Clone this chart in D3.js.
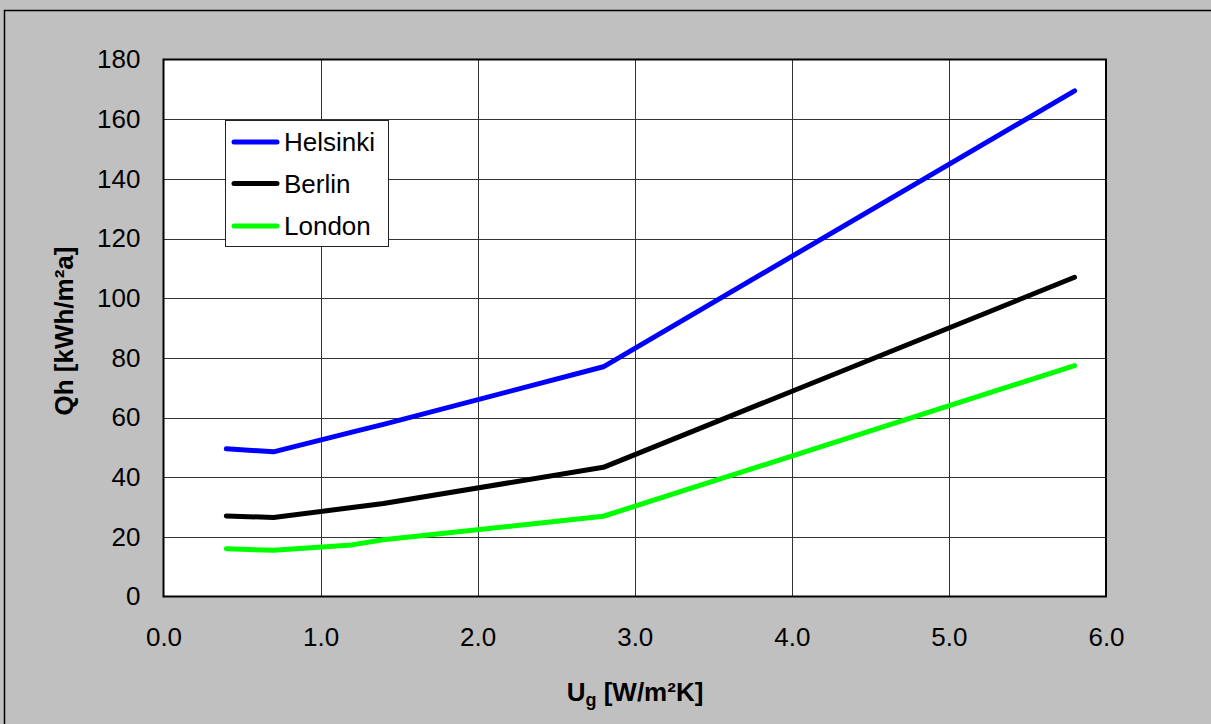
<!DOCTYPE html>
<html>
<head>
<meta charset="utf-8">
<script src="https://cdn.jsdelivr.net/npm/d3@7/dist/d3.min.js"></script>
<style>
html,body{margin:0;padding:0;background:#c0c0c0;overflow:hidden;}
svg{display:block;}
text{font-family:"Liberation Sans",Arial,sans-serif;fill:#000;}
</style>
</head>
<body>
<svg id="chart" width="1211" height="724"></svg>
<script>
const xValues = [0.4, 0.7, 1.2, 1.4, 2.8, 5.8];
const seriesNames = ["Helsinki", "Berlin", "London"];
const seriesColors = ["#0000ff", "#000000", "#00ff00"];
const helsinki = [49.5, 48.5, 55.1, 57.7, 77.0, 169.5];
const berlin = [27.0, 26.5, 29.8, 31.2, 43.3, 107.0];
const london = [16.0, 15.5, 17.3, 19.0, 26.9, 77.4];
const xTicks = [0, 1, 2, 3, 4, 5, 6];
const yTicks = [0, 20, 40, 60, 80, 100, 120, 140, 160, 180];

const series = [helsinki, berlin, london];
const svg = d3.select("#chart");
const W = 1211, H = 724;

// outer frame (right and bottom edges lie outside the picture)
svg.append("path").attr("d", `M${W + 5},10.5 H4.5 V${H + 5}`)
  .attr("fill", "none").attr("stroke", "#000").attr("stroke-width", 1.5);

const pLeft = 163.5, pRight = 1106, pTop = 59.5, pBottom = 596.5;
const x = d3.scaleLinear().domain([0, 6]).range([pLeft, pRight]);
const y = d3.scaleLinear().domain([0, 180]).range([pBottom, pTop]);

// plot area
svg.append("rect").attr("x", pLeft).attr("y", pTop).attr("width", pRight - pLeft).attr("height", pBottom - pTop)
  .attr("fill", "#fff");

// grid
const g = svg.append("g");
g.selectAll(".vg").data(xTicks.slice(1, -1)).join("line")
  .attr("x1", d => Math.round(x(d)) + 0.5).attr("x2", d => Math.round(x(d)) + 0.5)
  .attr("y1", pTop).attr("y2", pBottom).attr("stroke", "#333").attr("stroke-width", 1);
g.selectAll(".hg").data(yTicks.slice(1, -1)).join("line")
  .attr("y1", d => Math.round(y(d)) + 0.5).attr("y2", d => Math.round(y(d)) + 0.5)
  .attr("x1", pLeft).attr("x2", pRight).attr("stroke", "#333").attr("stroke-width", 1);

// plot border
svg.append("rect").attr("x", pLeft).attr("y", pTop).attr("width", pRight - pLeft).attr("height", pBottom - pTop)
  .attr("fill", "none").attr("stroke", "#000").attr("stroke-width", 2);

// axes labels via d3 axes
const yAxis = d3.axisLeft(y).tickValues(yTicks).tickSize(0).tickPadding(23).tickFormat(d3.format("d"));
const yG = svg.append("g").attr("transform", `translate(${pLeft},0)`).call(yAxis);
yG.select(".domain").remove();
yG.selectAll("text").attr("font-size", 26).attr("font-family", "Liberation Sans, Arial, sans-serif").attr("fill", "#000");

const xAxis = d3.axisBottom(x).tickValues(xTicks).tickSize(0).tickPadding(31).tickFormat(d3.format(".1f"));
const xG = svg.append("g").attr("transform", `translate(0,${pBottom})`).call(xAxis);
xG.select(".domain").remove();
xG.selectAll("text").attr("font-size", 26).attr("font-family", "Liberation Sans, Arial, sans-serif").attr("fill", "#000");

// lines
const line = d3.line().x((d, i) => x(xValues[i])).y(d => y(d));
series.forEach((s, i) => {
  svg.append("path").datum(s).attr("d", line).attr("fill", "none")
    .attr("stroke", seriesColors[i]).attr("stroke-width", 5)
    .attr("stroke-linecap", "round").attr("stroke-linejoin", "round");
});

// legend
const lg = svg.append("g");
lg.append("rect").attr("x", 225.5).attr("y", 120.5).attr("width", 163).attr("height", 126)
  .attr("fill", "#fff").attr("stroke", "#222").attr("stroke-width", 1);
const rowY = [142, 183.5, 226];
seriesNames.forEach((n, i) => {
  lg.append("line").attr("x1", 234).attr("x2", 277).attr("y1", rowY[i]).attr("y2", rowY[i])
    .attr("stroke", seriesColors[i]).attr("stroke-width", 5).attr("stroke-linecap", "round");
  lg.append("text").attr("x", 284).attr("y", rowY[i]).attr("dy", "0.35em").attr("font-size", 26).text(n);
});

// x title
const xt = svg.append("text").attr("x", 635).attr("y", 701).attr("text-anchor", "middle")
  .attr("font-size", 26).attr("font-weight", "bold");
xt.append("tspan").text("U");
xt.append("tspan").attr("font-size", 18).attr("dy", 5).text("g");
xt.append("tspan").attr("dy", -5).text(" [W/m²K]");

// y title
svg.append("text").attr("transform", "translate(73,331) rotate(-90)").attr("text-anchor", "middle")
  .attr("font-size", 26).attr("font-weight", "bold").text("Qh [kWh/m²a]");
</script>
</body>
</html>
